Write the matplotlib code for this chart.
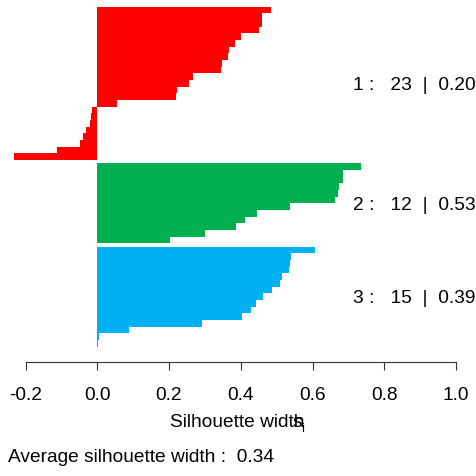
import matplotlib
matplotlib.use("Agg")
import matplotlib.pyplot as plt
import numpy as np

plt.rcParams['font.family'] = ['Liberation Sans', 'DejaVu Sans']

# silhouette widths per cluster (sorted descending, as drawn top to bottom)
cluster1 = [0.483, 0.459, 0.459, 0.450, 0.402, 0.384, 0.367, 0.363, 0.347, 0.345,
            0.267, 0.255, 0.222, 0.219, 0.055, -0.015, -0.018, -0.020, -0.031,
            -0.040, -0.048, -0.112, -0.232]
cluster2 = [0.734, 0.686, 0.684, 0.675, 0.670, 0.664, 0.537, 0.444, 0.413, 0.388,
            0.300, 0.202]
cluster3 = [0.606, 0.540, 0.537, 0.534, 0.514, 0.509, 0.487, 0.462, 0.442, 0.428,
            0.403, 0.292, 0.088, 0.005, 0.002]
clusters = [cluster1, cluster2, cluster3]
cluster_ids = ["1", "2", "3"]
cluster_sizes = [23, 12, 15]
cluster_avgs = ["0.20", "0.53", "0.39"]
colors = ["#FF0000", "#00B050", "#00B0F0"]
avg_width = "0.34"
xticks = [-0.2, 0.0, 0.2, 0.4, 0.6, 0.8, 1.0]
xticklabels = ["-0.2", "0.0", "0.2", "0.4", "0.6", "0.8", "1.0"]

FS = 13.8
W = H = 476
fig = plt.figure(figsize=(W / 100, H / 100), dpi=100)

top_px, bot_px = 6.7, 346.7
ax = fig.add_axes([0, 1 - bot_px / H, 1, (bot_px - top_px) / H])

gap = 0.5
total = sum(len(c) for c in clusters) + gap * (len(clusters) - 1)
y = total
centers = []
for vals, col in zip(clusters, colors):
    ys = y - 0.5 - np.arange(len(vals))
    ax.barh(ys, vals, height=1.0, color=col, linewidth=0, antialiased=False)
    centers.append(y - len(vals) / 2)
    y = y - len(vals) - gap

x0px, x1px = 97.3, 456.0
scale = x1px - x0px
ax.set_xlim(-x0px / scale, (W - x0px) / scale)
ax.set_ylim(0, total)

for s in ['top', 'right', 'left']:
    ax.spines[s].set_visible(False)
ax.spines['bottom'].set_position(('outward', 11))
ax.spines['bottom'].set_bounds(-0.2, 1.0)
ax.spines['bottom'].set_linewidth(0.8)
ax.spines['bottom'].set_color('#333333')
ax.set_yticks([])
ax.set_xticks(xticks)
ax.set_xticklabels(xticklabels, fontsize=FS)
ax.tick_params(axis='x', direction='out', length=6, width=0.8, color='#333333', pad=12)

for c, cid, n, a in zip(centers, cluster_ids, cluster_sizes, cluster_avgs):
    ax.text((353 - x0px) / scale, c - 0.3, f"{cid} :   {n}  |  {a}", ha='left', va='center',
            fontsize=FS)

fig.text(170 / W, 1 - 427 / H, "Silhouette width", ha='left', va='baseline', fontsize=FS)
fig.text(293 / W, 1 - 427 / H, "s", ha='left', va='baseline', fontsize=FS)
fig.text(301 / W, 1 - 432 / H, "i", ha='left', va='baseline', fontsize=9.5)
fig.text(8 / W, 1 - 461.5 / H, f"Average silhouette width :  {avg_width}", ha='left',
         va='baseline', fontsize=FS)

fig.savefig("out.png", dpi=100)
